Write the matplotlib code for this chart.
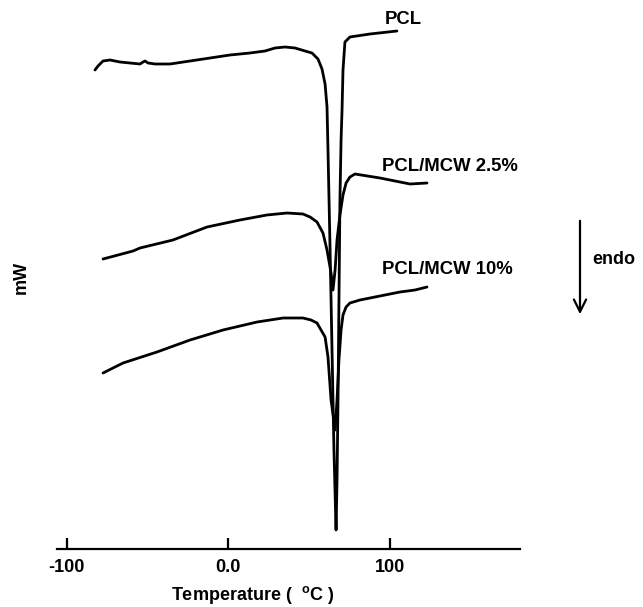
import matplotlib
matplotlib.use("Agg")
import matplotlib.pyplot as plt

plt.rcParams['font.family'] = ['Liberation Sans', 'DejaVu Sans']
plt.rcParams['mathtext.fontset'] = 'custom'
plt.rcParams['mathtext.rm'] = 'Liberation Sans:bold'
plt.rcParams['mathtext.bf'] = 'Liberation Sans:bold'

# DSC heating traces (temperature in °C, heat flow in mW, curves offset vertically)
pcl_temp = [-82.4, -80.5, -77.4, -73.1, -66.9, -60.7, -54.5, -52.6, -51.4, -49.5,
            -45.2, -35.9, -23.5, -11.1, 1.2, 13.6, 22.9, 29.1, 35.3, 41.5,
            47.7, 52.0, 55.7, 58.2, 60.1, 61.3, 61.9, 63.2, 64.4, 65.6,
            66.9, 67.5, 68.1, 68.7, 69.3, 70.0, 70.6, 71.2, 72.4, 75.5,
            87.9, 104.6]
pcl_flow = [9.58, 9.66, 9.76, 9.78, 9.74, 9.72, 9.70, 9.74, 9.76, 9.72,
            9.70, 9.70, 9.76, 9.82, 9.88, 9.92, 9.96, 10.02, 10.04, 10.02,
            9.96, 9.92, 9.80, 9.60, 9.30, 8.84, 7.98, 5.98, 3.98, 1.98,
            0.38, 1.38, 2.98, 4.98, 6.98, 8.18, 8.78, 9.58, 10.14, 10.24,
            10.30, 10.36]

mcw25_temp = [-77.4, -58.8, -54.5, -34.1, -13.0, 7.4, 24.1, 36.5, 46.4, 50.8,
              55.1, 58.8, 61.3, 63.8, 65.0, 66.3, 67.5, 69.3, 71.2, 73.1,
              75.5, 78.6, 94.1, 106.5, 112.7, 123.2]
mcw25_flow = [5.80, 5.96, 6.02, 6.18, 6.44, 6.58, 6.68, 6.72, 6.70, 6.64,
              6.54, 6.32, 5.98, 5.52, 5.18, 5.58, 6.18, 6.68, 7.08, 7.32,
              7.44, 7.50, 7.42, 7.34, 7.30, 7.32]

mcw10_temp = [-77.4, -65.0, -44.0, -23.5, -3.1, 18.0, 34.1, 46.4, 51.4, 55.1,
              60.1, 61.9, 63.8, 66.3, 67.5, 68.7, 70.0, 71.2, 73.1, 75.5,
              81.7, 94.1, 106.5, 115.8, 123.2]
mcw10_flow = [3.52, 3.72, 3.94, 4.18, 4.38, 4.54, 4.62, 4.62, 4.58, 4.52,
              4.24, 3.84, 2.98, 2.38, 2.98, 3.78, 4.38, 4.68, 4.84, 4.92,
              4.98, 5.06, 5.14, 5.18, 5.24]

series_labels = ['PCL', 'PCL/MCW 2.5%', 'PCL/MCW 10%']
label_anchor_temp = [97.2, 95.4, 95.4]
label_anchor_flow = [10.58, 7.64, 5.58]

tick_values = [-100, 0, 100]
tick_labels = ['-100', '0.0', '100']

fig = plt.figure(figsize=(6.43, 6.07), dpi=100)
W, H = 643, 607
ax = fig.add_axes([57 / W, (H - 549) / H, (520 - 57) / W, (549 - 10) / H])

for t, f in [(pcl_temp, pcl_flow), (mcw25_temp, mcw25_flow), (mcw10_temp, mcw10_flow)]:
    ax.plot(t, f, color='black', lw=2.0, solid_joinstyle='round', solid_capstyle='round')

for lab, tx, fy in zip(series_labels, label_anchor_temp, label_anchor_flow):
    ax.text(tx, fy, lab, fontsize=13.3, fontweight='bold', ha='left', va='center')

ax.set_xlim(-105.9, 180.8)
ax.set_ylim(0, 10.78)

for side in ['top', 'right', 'left']:
    ax.spines[side].set_visible(False)
ax.spines['bottom'].set_linewidth(1.6)

ax.set_yticks([])
ax.set_xticks(tick_values)
ax.set_xticklabels(tick_labels, fontsize=13, fontweight='bold')
ax.tick_params(axis='x', direction='in', length=8, width=1.6, pad=7)

fig.text(253 / W, 1 - 595 / H, r'Temperature (  $^{\mathbf{o}}$C )', fontsize=13,
         fontweight='bold', ha='center', va='center')
fig.text(21 / W, 1 - 277 / H, 'mW', fontsize=13, fontweight='bold',
         rotation=90, ha='center', va='center')

# endothermic direction indicator
ax.annotate('', xy=(580, H - 317), xytext=(580, H - 218), xycoords='figure pixels',
            textcoords='figure pixels',
            arrowprops=dict(arrowstyle='->', lw=1.6, color='black', mutation_scale=22))
fig.text(592 / W, 1 - 260 / H, 'endo', fontsize=13, fontweight='bold',
         ha='left', va='center')

fig.savefig('out.png', dpi=100)
